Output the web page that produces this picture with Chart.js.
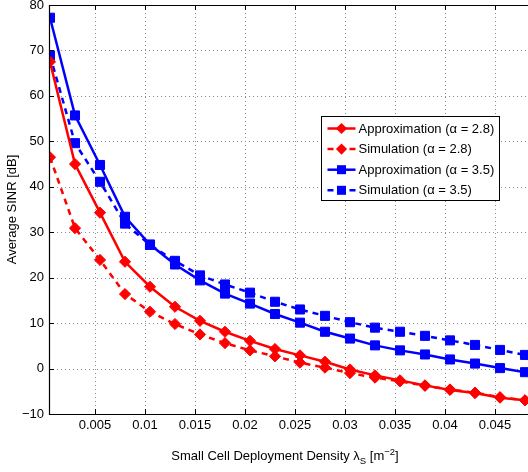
<!DOCTYPE html>
<html>
<head>
<meta charset="utf-8">
<script src="https://cdn.jsdelivr.net/npm/chart.js@4.4.1/dist/chart.umd.min.js"></script>
<style>
  html, body { margin: 0; padding: 0; background: #fff; }
  #wrap { width: 528px; height: 472px; }
</style>
</head>
<body>
<div id="wrap"><canvas id="sinrChart"></canvas></div>
<script>
const densities = [0.0005, 0.003, 0.0055, 0.008, 0.0105, 0.013, 0.0155, 0.018, 0.0205, 0.023,
  0.0255, 0.028, 0.0305, 0.033, 0.0355, 0.038, 0.0405, 0.043, 0.0455, 0.048];
const approx28 = [67.5, 45.0, 34.3, 23.5, 18.0, 13.6, 10.5, 8.1, 6.1, 4.3,
  2.9, 1.5, -0.2, -1.5, -2.6, -3.7, -4.7, -5.4, -6.4, -7.0];
const sim28 = [46.5, 30.9, 23.9, 16.4, 12.5, 9.8, 7.5, 5.6, 4.0, 2.7,
  1.3, 0.2, -1.0, -2.0, -2.8, -3.8, -4.6, -5.3, -6.3, -7.0];
const approx35 = [77.2, 55.7, 44.8, 33.4, 27.3, 22.9, 19.4, 16.5, 14.3, 12.0,
  10.1, 8.1, 6.6, 5.1, 4.0, 3.1, 2.0, 1.1, 0.1, -0.8];
const sim35 = [68.9, 49.6, 41.1, 31.9, 27.2, 23.7, 20.5, 18.5, 16.7, 14.7,
  13.0, 11.6, 10.2, 9.0, 8.1, 7.2, 6.2, 5.2, 4.1, 3.0];
const seriesLabels = ['Approximation (\u03b1 = 2.8)', 'Simulation (\u03b1 = 2.8)',
  'Approximation (\u03b1 = 3.5)', 'Simulation (\u03b1 = 3.5)'];
const xTicks = [0.005, 0.01, 0.015, 0.02, 0.025, 0.03, 0.035, 0.04, 0.045];
const yTicks = [-10, 0, 10, 20, 30, 40, 50, 60, 70, 80];

const FONT = '"Liberation Sans", Arial, Helvetica, sans-serif';
const RED = '#ff0000';
const BLUE = '#0000ff';

function makeSet(label, values, color, dashed, marker) {
  return {
    label: label,
    data: values.map((v, i) => ({ x: densities[i], y: v })),
    borderColor: color,
    backgroundColor: color,
    borderWidth: 2.5,
    borderDash: dashed ? [6, 5] : [],
    pointStyle: marker,
    pointRadius: marker === 'rect' ? 6.4 : 5.6,
    pointBorderWidth: 1,
    pointBackgroundColor: color,
    pointBorderColor: color,
    tension: 0,
  };
}

function drawMarker(ctx, style, x, y, color) {
  ctx.save();
  ctx.fillStyle = color;
  ctx.setLineDash([]);
  ctx.beginPath();
  if (style === 'rect') {
    ctx.rect(x - 4.5, y - 4.5, 9, 9);
  } else {
    ctx.moveTo(x, y - 5.6);
    ctx.lineTo(x + 5.6, y);
    ctx.lineTo(x, y + 5.6);
    ctx.lineTo(x - 5.6, y);
    ctx.closePath();
  }
  ctx.fill();
  ctx.restore();
}

const matlabFrame = {
  id: 'matlabFrame',
  beforeDatasetsDraw(chart) {
    const { ctx, chartArea: a, scales: { x, y } } = chart;
    ctx.save();
    ctx.strokeStyle = '#8c8c8c';
    ctx.lineWidth = 1;
    ctx.setLineDash([1, 3]);
    xTicks.forEach(t => {
      const px = Math.round(x.getPixelForValue(t)) + 0.5;
      ctx.beginPath(); ctx.moveTo(px, a.top); ctx.lineTo(px, a.bottom); ctx.stroke();
    });
    yTicks.slice(1, -1).forEach(t => {
      const py = Math.round(y.getPixelForValue(t)) + 0.5;
      ctx.beginPath(); ctx.moveTo(a.left, py); ctx.lineTo(a.right, py); ctx.stroke();
    });
    ctx.restore();
  },
  afterDatasetsDraw(chart) {
    const { ctx, chartArea: a, scales: { x, y } } = chart;
    ctx.save();
    // axes box (right side lies outside the picture)
    ctx.strokeStyle = '#000';
    ctx.lineWidth = 1.2;
    ctx.beginPath();
    ctx.moveTo(a.right, a.top + 0.5); ctx.lineTo(a.left + 0.5, a.top + 0.5);
    ctx.lineTo(a.left + 0.5, a.bottom + 0.5); ctx.lineTo(a.right, a.bottom + 0.5);
    ctx.stroke();
    ctx.lineWidth = 1;
    xTicks.forEach(t => {
      const px = Math.round(x.getPixelForValue(t)) + 0.5;
      ctx.beginPath();
      ctx.moveTo(px, a.bottom); ctx.lineTo(px, a.bottom - 5);
      ctx.moveTo(px, a.top); ctx.lineTo(px, a.top + 5);
      ctx.stroke();
    });
    yTicks.forEach(t => {
      const py = Math.round(y.getPixelForValue(t)) + 0.5;
      ctx.beginPath(); ctx.moveTo(a.left, py); ctx.lineTo(a.left + 5, py); ctx.stroke();
    });

    // legend
    const bx = 321.5, by = 116.5, bw = 178, bh = 84;
    ctx.fillStyle = '#fff';
    ctx.fillRect(bx, by, bw, bh);
    ctx.strokeStyle = '#000';
    ctx.strokeRect(bx, by, bw, bh);
    ctx.font = '13px ' + FONT;
    ctx.textBaseline = 'middle';
    chart.data.datasets.forEach((ds, i) => {
      const ry = by + 12 + i * 20.6;
      ctx.strokeStyle = ds.borderColor;
      ctx.lineWidth = 2.5;
      ctx.setLineDash(ds.borderDash);
      ctx.beginPath(); ctx.moveTo(bx + 6, ry); ctx.lineTo(bx + 34, ry); ctx.stroke();
      drawMarker(ctx, ds.pointStyle, bx + 20, ry, ds.borderColor);
      ctx.fillStyle = '#000';
      ctx.fillText(ds.label, bx + 37, ry + 0.5);
    });
    ctx.setLineDash([]);

    // x axis title with subscript / superscript
    const parts = [
      { t: 'Small Cell Deployment Density \u03bb', s: 13, dy: 0 },
      { t: 'S', s: 9.5, dy: 4 },
      { t: ' [m', s: 13, dy: 0 },
      { t: '\u22122', s: 9.5, dy: -5 },
      { t: ']', s: 13, dy: 0 },
    ];
    let total = 0;
    parts.forEach(p => { ctx.font = p.s + 'px ' + FONT; p.w = ctx.measureText(p.t).width; total += p.w; });
    let cx = 285 - total / 2;
    ctx.fillStyle = '#000';
    ctx.textBaseline = 'alphabetic';
    parts.forEach(p => {
      ctx.font = p.s + 'px ' + FONT;
      ctx.fillText(p.t, cx, 460 + p.dy);
      cx += p.w;
    });
    ctx.restore();
  }
};

new Chart(document.getElementById('sinrChart'), {
  type: 'line',
  data: {
    datasets: [
      makeSet(seriesLabels[0], approx28, RED, false, 'rectRot'),
      makeSet(seriesLabels[1], sim28, RED, true, 'rectRot'),
      makeSet(seriesLabels[2], approx35, BLUE, false, 'rect'),
      makeSet(seriesLabels[3], sim35, BLUE, true, 'rect'),
    ],
  },
  options: {
    responsive: true,
    maintainAspectRatio: false,
    animation: false,
    devicePixelRatio: 1,
    layout: { autoPadding: false, padding: { top: 5, right: 0, left: 0, bottom: 0 } },
    plugins: { legend: { display: false }, tooltip: { enabled: false } },
    scales: {
      x: {
        type: 'linear',
        min: 0.0004,
        max: 0.0483,
        grid: { display: false, drawTicks: false },
        border: { display: false },
        afterBuildTicks: s => { s.ticks = xTicks.map(v => ({ value: v })); },
        afterFit: s => { s.height = 58; s.paddingLeft = 0; s.paddingRight = 0; },
        ticks: {
          padding: 4,
          color: '#000',
          font: { family: FONT, size: 13 },
          maxRotation: 0,
          autoSkip: false,
          callback: v => String(Number(v.toFixed(3))),
        },
      },
      y: {
        min: -10,
        max: 80,
        grid: { display: false, drawTicks: false },
        border: { display: false },
        afterBuildTicks: s => { s.ticks = yTicks.map(v => ({ value: v })); },
        afterFit: s => { s.width = 49; s.paddingTop = 0; s.paddingBottom = 0; },
        title: {
          display: true,
          text: 'Average SINR [dB]',
          color: '#000',
          font: { family: FONT, size: 13 },
          padding: { top: 5, bottom: 0 },
        },
        ticks: {
          padding: 5,
          color: '#000',
          font: { family: FONT, size: 13 },
          callback: v => String(v).replace('-', '\u2212'),
        },
      },
    },
  },
  plugins: [matlabFrame],
});
</script>
</body>
</html>
